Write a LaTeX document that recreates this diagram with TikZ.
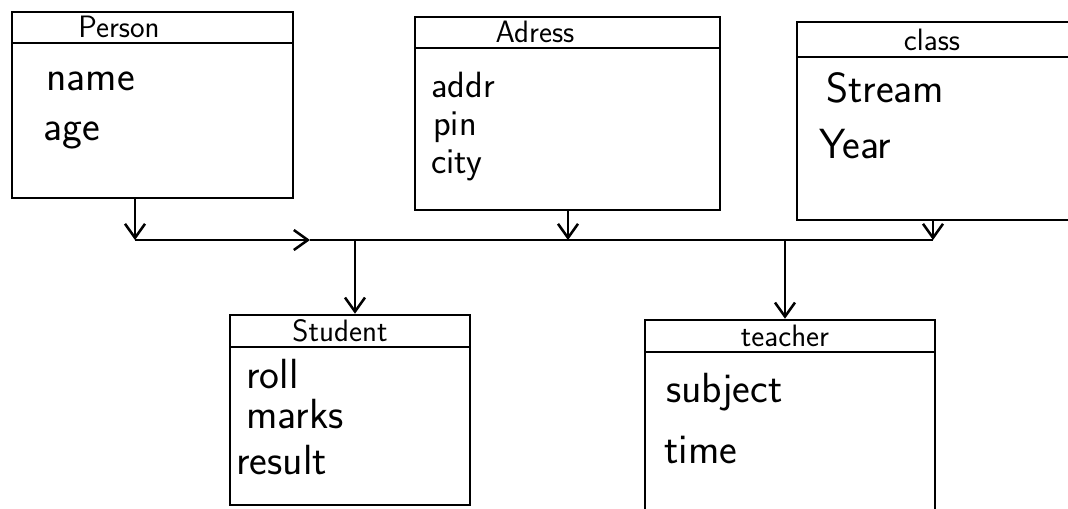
\documentclass[tikz,border=0pt]{standalone}
\usepackage{tikz}
\usetikzlibrary{fit,arrows.meta}

\begin{document}
\begin{tikzpicture}[
		x=0.025cm, y=-0.025cm,
		line width=1.8pt,
		classbox/.style = {draw, rectangle, inner sep=0pt},
		hdrbox/.style   = {draw, rectangle, inner sep=0pt},
		ttl/.style      = {anchor=base, inner sep=0pt, font=\sffamily\fontsize{22}{26}\selectfont},
		attr/.style     = {anchor=base west, inner sep=0pt, font=\sffamily\fontsize{30}{36}\selectfont},
		arr/.style      = {-{Straight Barb[length=3.5mm,width=5mm]}}
		]
		\useasboundingbox (0,0) rectangle (1068,508);
		\clip (0,0) rectangle (1068,508);
		% class boxes and their headers
		\node (person)  [classbox, fit={(12,12) (293,198)}] {};
		\node (personH) [hdrbox, fit={(12,12) (293,43)}] {};
		\node (adress)  [classbox, fit={(415,17) (720,210)}] {};
		\node (adressH) [hdrbox, fit={(415,17) (720,48)}] {};
		\node (klass)   [classbox, fit={(797,22) (1075,220)}] {};
		\node (klassH)  [hdrbox, fit={(797,22) (1075,57)}] {};
		\node (student) [classbox, fit={(230,315) (470,505)}] {};
		\node (studentH)[hdrbox, fit={(230,315) (470,347)}] {};
		\node (teacher) [classbox, fit={(645,320) (935,520)}] {};
		\node (teacherH)[hdrbox, fit={(645,320) (935,352)}] {};
		% titles
		\node (tP) [ttl] at (119,37)  {Person};
		\node (tA) [ttl] at (535,42)  {Adress};
		\node (tC) [ttl] at (932,50)  {class};
		\node (tS) [ttl] at (340,341) {Student};
		\node (tT) [ttl] at (785,346) {teacher};
		% attributes
		\foreach \i/\txt/\xx/\yy in {1/name/45/90, 2/age/42/140}
		\node (p\i) [attr] at (\xx,\yy) {\txt};
		\foreach \i/\txt/\xx/\yy in {1/addr/430/97, 2/pin/432/135, 3/city/430/173}
		\node (a\i) [attr, font=\sffamily\fontsize{26}{30}\selectfont] at (\xx,\yy) {\txt};
		\foreach \i/\txt/\xx/\yy in {1/Stream/825/102, 2/Year/818/158}
		\node (c\i) [attr] at (\xx,\yy) {\txt};
		\foreach \i/\txt/\xx/\yy in {1/roll/245/388, 2/marks/245/428, 3/result/235/474}
		\node (s\i) [attr] at (\xx,\yy) {\txt};
		\foreach \i/\txt/\xx/\yy in {1/subject/665/402, 2/time/663/463}
		\node (t\i) [attr] at (\xx,\yy) {\txt};
		% junctions on the common line
		\coordinate (jp) at (135,240);
		\coordinate (jm) at (310,240);
		\coordinate (js) at (355,240);
		\coordinate (ja) at (568,240);
		\coordinate (jt) at (785,240);
		\coordinate (jc) at (933,240);
		\draw[arr] (jp |- person.south) -- (jp);
		\draw[arr] (ja |- adress.south) -- (ja);
		\draw[arr] (jc |- klass.south) -- (jc);
		\draw[arr] (jp) -- (jm);
		\draw (jm) -- (jc);
		\draw[arr] (js) -- (js |- student.north);
		\draw[arr] (jt) -- (jt |- teacher.north);
	\end{tikzpicture}
\end{document}
